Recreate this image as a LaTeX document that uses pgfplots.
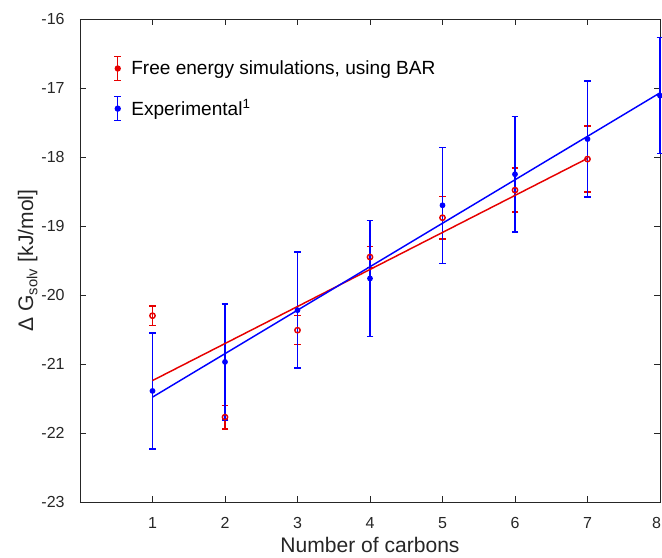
\documentclass[border=0pt]{standalone}
\usepackage{fontspec}
\setmainfont{Liberation Sans}
\usepackage{pgfplots}
\pgfplotsset{compat=1.18}
\definecolor{axgray}{RGB}{38,38,38}
\definecolor{bared}{RGB}{230,0,0}
\definecolor{expblue}{RGB}{0,0,255}

\begin{document}
\begin{tikzpicture}
\begin{axis}[
    scale only axis,
    width=435pt, height=362.25pt,
    xmin=0, xmax=8,
    ymin=-23, ymax=-16,
    xtick={1,2,3,4,5,6,7,8},
    xticklabels={1,2,3,4,5,6,7,{8\rule{5pt}{0pt}}},
    ytick={-23,-22,-21,-20,-19,-18,-17,-16},
    tick align=inside,
    major tick length=4.5pt,
    axis line style={axgray, line width=0.5pt},
    tick style={axgray, line width=0.5pt},
    ticklabel style={font=\fontsize{12}{14}\selectfont, text=axgray},
    xticklabel style={yshift=-8pt},
    yticklabel style={xshift=-8pt},
    /pgf/number format/assume math mode=true,
    xlabel={Number of carbons},
    ylabel={Δ G\textsubscript{solv} [kJ/mol]},
    label style={font=\fontsize{15.8}{18}\selectfont, text=axgray},
    xlabel style={at={(axis description cs:0.5,-0.089)}, anchor=center},
    ylabel style={at={(axis description cs:-0.09,0.5)}, anchor=center},
    legend style={at={(0.0505,0.93)}, anchor=north west, draw=none, fill=none,
        font=\fontsize{14.3}{17}\selectfont, row sep=11pt, column sep=5pt},
    legend cell align=left,
    clip=false,
]

% free energy simulations (BAR)
\addplot[bared, only marks, mark=o, mark size=2pt, line width=1.1pt,
    legend image code/.code={
        \draw[bared, line width=1.1pt] (0pt,-9pt)--(0pt,9pt)
            (-2.6pt,-9pt)--(2.6pt,-9pt) (-2.6pt,9pt)--(2.6pt,9pt);
        \fill[bared] (0pt,0pt) circle (1.8pt);
    },
    error bars/.cd, y dir=both, y explicit,
    error bar style={line width=1.1pt},
    error mark options={rotate=90, mark size=2.5pt, line width=1.1pt}] coordinates {
    (1,-20.30) +- (0,0.14)
    (2,-21.77) +- (0,0.17)
    (3,-20.51) +- (0,0.21)
    (4,-19.45) +- (0,0.15)
    (5,-18.88) +- (0,0.31)
    (6,-18.48) +- (0,0.32)
    (7,-18.03) +- (0,0.48)
};
\addlegendentry{Free energy simulations, using BAR}

% experimental
\addplot[expblue, only marks, mark=*, mark size=1.6pt, line width=1.1pt,
    legend image code/.code={
        \draw[expblue, line width=1.1pt] (0pt,-9pt)--(0pt,9pt)
            (-2.6pt,-9pt)--(2.6pt,-9pt) (-2.6pt,9pt)--(2.6pt,9pt);
        \fill[expblue] (0pt,0pt) circle (1.8pt);
    },
    error bars/.cd, y dir=both, y explicit,
    error bar style={line width=1.1pt},
    error mark options={rotate=90, mark size=2.5pt, line width=1.1pt}] coordinates {
    (1,-21.39) +- (0,0.84)
    (2,-20.97) +- (0,0.84)
    (3,-20.22) +- (0,0.84)
    (4,-19.76) +- (0,0.84)
    (5,-18.70) +- (0,0.84)
    (6,-18.25) +- (0,0.84)
    (7,-17.74) +- (0,0.84)
    (8,-17.11) +- (0,0.84)
};
\addlegendentry{Experimental\textsuperscript{1}}

% linear fits
\addplot[bared, line width=1.1pt, forget plot] coordinates {(1,-21.24) (7,-18.02)};
\addplot[expblue, line width=1.1pt, forget plot] coordinates {(1,-21.48) (8,-17.07)};

\end{axis}
\pgfresetboundingbox
\path (-60pt,-42pt) rectangle (436.5pt,376.5pt);
\end{tikzpicture}
\end{document}
